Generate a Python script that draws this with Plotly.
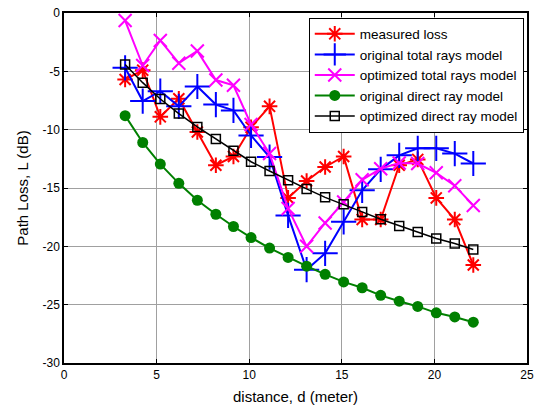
import plotly.graph_objects as go

distance = [3.3, 4.25, 5.2, 6.2, 7.2, 8.2, 9.15, 10.1, 11.1, 12.1,
            13.1, 14.1, 15.1, 16.1, 17.1, 18.1, 19.1, 20.1, 21.1, 22.1]

measured_loss = [-5.7, -4.9, -8.9, -7.35, -10.2, -13.05, -12.3, -9.8, -8.0, -15.85,
                 -14.4, -13.2, -12.3, -17.7, -17.7, -13.05, -12.55, -15.85, -17.7, -21.6]

original_total = [-4.7, -7.55, -6.7, -8.0, -6.3, -7.85, -8.35, -10.5, -12.35, -17.35,
                  -22.0, -20.6, -17.9, -15.2, -13.4, -12.2, -11.6, -11.6, -12.05, -12.9]

optimized_total = [-0.65, -4.5, -2.35, -4.3, -3.25, -5.75, -6.2, -9.55, -12.05, -16.75,
                   -20.0, -18.0, -16.2, -14.3, -13.35, -12.85, -12.9, -13.7, -14.8, -16.5]

original_direct = [-8.8, -11.1, -12.95, -14.6, -16.05, -17.25, -18.3, -19.25, -20.15, -20.95,
                   -21.7, -22.4, -23.05, -23.55, -24.2, -24.7, -25.15, -25.7, -26.05, -26.5]

optimized_direct = [-4.42, -5.97, -7.37, -8.62, -9.77, -10.8, -11.8, -12.75, -13.54, -14.34,
                    -15.08, -15.8, -16.4, -17.05, -17.68, -18.25, -18.77, -19.33, -19.76, -20.27]

x_ticks = [0, 5, 10, 15, 20, 25]
x_tick_labels = ["0", "5", "10", "15", "20", "25"]
y_ticks = [0, -5, -10, -15, -20, -25, -30]
y_tick_labels = ["0", "-5", "-10", "-15", "-20", "-25", "-30"]

fig = go.Figure()

fig.add_trace(go.Scatter(
    x=distance, y=measured_loss, mode="lines+markers", name="measured loss",
    line=dict(color="#ff0000", width=2),
    marker=dict(symbol="asterisk-open", size=13, line=dict(color="#ff0000", width=2))))
fig.add_trace(go.Scatter(
    x=distance, y=original_total, mode="lines+markers", name="original total rays model",
    line=dict(color="#0000ff", width=2),
    marker=dict(symbol="cross-thin-open", size=18, line=dict(color="#0000ff", width=2))))
fig.add_trace(go.Scatter(
    x=distance, y=optimized_total, mode="lines+markers", name="optimized total rays model",
    line=dict(color="#ff00ff", width=2),
    marker=dict(symbol="x-thin-open", size=13, line=dict(color="#ff00ff", width=2))))
fig.add_trace(go.Scatter(
    x=distance, y=original_direct, mode="lines+markers", name="original direct ray model",
    line=dict(color="#008000", width=2),
    marker=dict(symbol="circle", size=11, color="#008000")))
fig.add_trace(go.Scatter(
    x=distance, y=optimized_direct, mode="lines+markers", name="optimized direct ray model",
    line=dict(color="#000000", width=1.5),
    marker=dict(symbol="square-open", size=9, line=dict(color="#000000", width=1.5))))

axis_common = dict(
    showline=True, linecolor="black", linewidth=1.5, mirror="ticks",
    ticks="inside", ticklen=4, tickcolor="black",
    showgrid=True, gridcolor="#a0a0a0", gridwidth=1,
    zeroline=False, automargin=False, ticklabeloverflow="allow",
    tickfont=dict(family="Liberation Sans, Arial", size=12, color="black"),
)

title_font = dict(family="Liberation Sans Narrow, Liberation Sans, Arial", size=15, color="black")

fig.update_xaxes(range=[0, 25], tickvals=x_ticks, ticktext=x_tick_labels,
                 title=dict(text="distance, d (meter)", standoff=10, font=title_font),
                 **axis_common)
fig.update_yaxes(range=[-30, 0], tickvals=y_ticks, ticktext=y_tick_labels,
                 title=dict(text="Path Loss, L (dB)", standoff=10, font=title_font),
                 **axis_common)

fig.update_layout(
    width=536, height=407,
    margin=dict(l=64, r=9, t=13, b=44),
    paper_bgcolor="white", plot_bgcolor="white",
    showlegend=True,
    legend=dict(
        x=0.993, y=0.987, xanchor="right", yanchor="top",
        bgcolor="white", bordercolor="black", borderwidth=1,
        font=dict(family="Liberation Sans, Arial", size=13.5, color="black"),
        tracegroupgap=0, itemwidth=40,
    ),
    font=dict(family="Liberation Sans, Arial", size=12, color="black"),
)

# remove the default page margin so the 536x407 figure fills the window exactly
fig.write_html(
    "out.html",
    config={"displayModeBar": False},
    post_script="document.body.style.margin='0';document.body.style.overflow='hidden';",
)
